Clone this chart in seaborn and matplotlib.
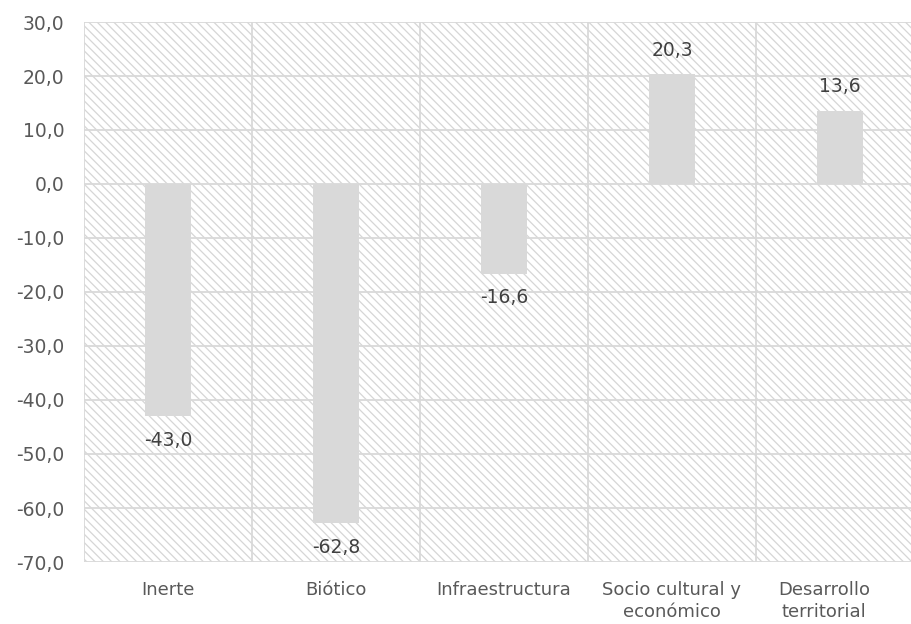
import matplotlib
matplotlib.use("Agg")
import matplotlib.pyplot as plt
import matplotlib.transforms as mtransforms
from matplotlib.patches import Rectangle
import seaborn as sns
import pandas as pd

# Chart data
categories = ["Inerte", "Biótico", "Infraestructura",
              "Socio cultural y\neconómico", "Desarrollo\nterritorial"]
values = [-43.0, -62.8, -16.6, 20.3, 13.6]
y_ticks = [30, 20, 10, 0, -10, -20, -30, -40, -50, -60, -70]

TEXT = "#595959"
GRID = "#d9d9d9"
BAR = "#d9d9d9"
HATCH = "#d6d6d6"

sns.set_theme(style="white")
plt.rcParams["font.family"] = ["DejaVu Sans"]
plt.rcParams["hatch.color"] = HATCH
plt.rcParams["hatch.linewidth"] = 0.9

fig = plt.figure(figsize=(9.12, 6.24), dpi=100)
ax = fig.add_axes([84 / 912, 62 / 624, 840 / 912, 540 / 624])

df = pd.DataFrame({"cat": categories, "val": values})

# hatched plotting background
ax.add_patch(Rectangle((0, 0), 1, 1, transform=ax.transAxes, facecolor="white",
                       edgecolor=HATCH, hatch="\\\\\\\\", linewidth=0, zorder=0))

sns.barplot(data=df, x="cat", y="val", color=BAR, saturation=1, width=0.27,
            linewidth=0, edgecolor=BAR, ax=ax, zorder=3)

ax.set_ylim(-70, 30)
ax.set_xlim(-0.5, 4.5)
ax.set_yticks(y_ticks)
ax.set_yticklabels([f"{v:.1f}".replace(".", ",") for v in y_ticks])
ax.set_xticks([-0.5, 0.5, 1.5, 2.5, 3.5, 4.5], minor=True)

ax.grid(axis="y", which="major", color=GRID, linewidth=1.3, zorder=1)
ax.grid(axis="x", which="minor", color=GRID, linewidth=1.3, zorder=1)
ax.grid(axis="x", which="major", visible=False)
ax.set_axisbelow(True)

for s in ax.spines.values():
    s.set_visible(False)

ax.set_xlabel("")
ax.set_ylabel("")
ax.tick_params(axis="y", length=0, pad=14, labelsize=13.5, labelcolor=TEXT)
ax.tick_params(axis="x", which="both", length=0, pad=14, labelsize=13,
               labelcolor=TEXT)
for lab in ax.get_xticklabels():
    lab.set_linespacing(1.25)
last = ax.get_xticklabels()[-1]
last.set_transform(last.get_transform() +
                   mtransforms.ScaledTranslation(-0.16, 0, fig.dpi_scale_trans))

# value labels
for i, v in enumerate(values):
    off = 17.3 if v >= 0 else -17.3
    ax.annotate(f"{v:.1f}".replace(".", ","), (i, v), xytext=(0, off),
                textcoords="offset points", ha="center", va="center",
                fontsize=13.5, color="#404040", zorder=5)

fig.savefig("out.png", dpi=100)
